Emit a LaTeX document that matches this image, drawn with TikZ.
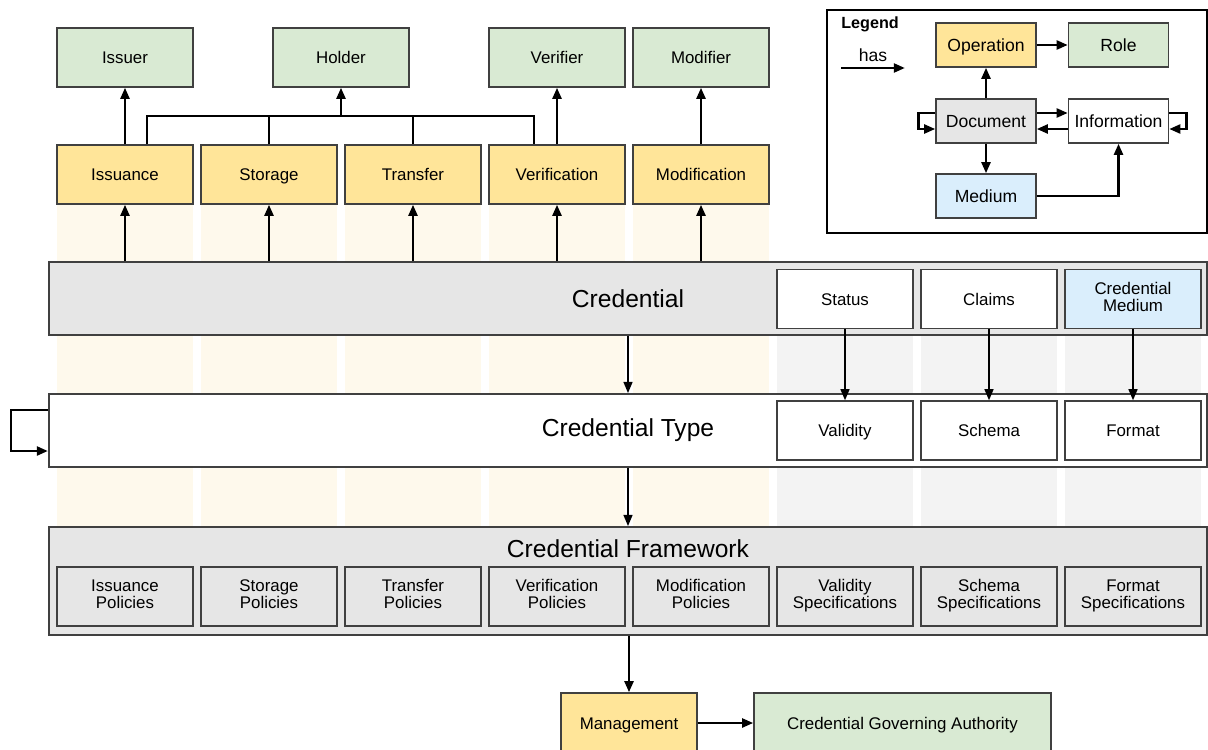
\documentclass[tikz,border=0pt]{standalone}
\usepackage{fontspec}
\setmainfont{Liberation Sans}
\usetikzlibrary{arrows.meta, positioning}

\definecolor{opyellow}{HTML}{FFE599}
\definecolor{rolegreen}{HTML}{D9EAD3}
\definecolor{mediumblue}{HTML}{DAEEFC}
\definecolor{bandgray}{HTML}{E6E6E6}
\definecolor{colyellow}{HTML}{FEF9EC}
\definecolor{colgray}{HTML}{F3F3F3}
\definecolor{boxline}{HTML}{404040}

% strut that keeps the capitals centred in a box
\newcommand{\capstrut}{\lineskiplimit=-100pt\relax\rule[-0.3em]{0pt}{1.316em}}

\begin{document}
\begin{tikzpicture}[
    x=0.025cm, y=-0.025cm,
    box/.style={rectangle, draw=boxline, line width=0.9pt, minimum width=3.4cm, minimum height=1.475cm, inner sep=1pt, align=center, font=\fontsize{12}{12.2}\selectfont, execute at begin node=\capstrut, execute at end node=\capstrut},
    op/.style={box, fill=opyellow},
    role/.style={box, fill=rolegreen},
    band/.style={rectangle, draw=boxline, line width=1.2pt, minimum width=28.95cm, minimum height=1.825cm, font=\fontsize{17.5}{20}\selectfont},
    lbox/.style={box, minimum width=2.5cm, minimum height=1.1cm, font=\fontsize{12.5}{14}\selectfont},
    arrow/.style={-{Triangle[length=0.28cm,width=0.22cm]}, line width=2pt},
    thinarrow/.style={arrow, line width=1.4pt},
    link/.style={line width=2pt}
]
    \useasboundingbox (0,0) rectangle (1208,749);

    % column backgrounds
    \foreach \cx in {125,269,413,557,701}
        \fill[colyellow] ({\cx-68},204) rectangle ({\cx+68},527);
    \foreach \cx in {845,989,1133}
        \fill[colgray] ({\cx-68},328) rectangle ({\cx+68},527);

    % roles
    \node[role] (issuer) at (125,57.5) {Issuer};
    \node[role] (holder) at (341,57.5) {Holder};
    \node[role] (verifier) at (557,57.5) {Verifier};
    \node[role] (modifier) at (701,57.5) {Modifier};

    % operations
    \node[op] (issuance) at (125,174.5) {Issuance};
    \node[op] (storage) at (269,174.5) {Storage};
    \node[op] (transfer) at (413,174.5) {Transfer};
    \node[op] (verification) at (557,174.5) {Verification};
    \node[op] (modification) at (701,174.5) {Modification};

    % credential
    \node[band, fill=bandgray] (credential) at (628,298.5) {\raisebox{-2pt}{Credential}};
    \node[box, fill=white] (status) at (845,299) {Status};
    \node[box, fill=white] (claims) at (989,299) {Claims};
    \node[box, fill=mediumblue] (credmedium) at (1133,299) {Credential\\Medium};

    % credential type
    \node[band, fill=white] (credtype) at (628,430.5) {\raisebox{-3pt}{Credential Type}};
    \node[box, fill=white] (validity) at (845,430.5) {Validity};
    \node[box, fill=white] (schema) at (989,430.5) {Schema};
    \node[box, fill=white] (format) at (1133,430.5) {Format};

    % credential framework
    \node[band, fill=bandgray, minimum height=2.7cm] (framework) at (628,581) {};
    \node[font=\fontsize{17.5}{20}\selectfont] (fwtitle) at (628,549) {Credential Framework};
    \node[box, fill=bandgray] (issuancepol) at (125,596.5) {Issuance\\Policies};
    \node[box, fill=bandgray] (storagepol) at (269,596.5) {Storage\\Policies};
    \node[box, fill=bandgray] (transferpol) at (413,596.5) {Transfer\\Policies};
    \node[box, fill=bandgray] (verificationpol) at (557,596.5) {Verification\\Policies};
    \node[box, fill=bandgray] (modificationpol) at (701,596.5) {Modification\\Policies};
    \node[box, fill=bandgray] (validityspec) at (845,596.5) {Validity\\Specifications};
    \node[box, fill=bandgray] (schemaspec) at (989,596.5) {Schema\\Specifications};
    \node[box, fill=bandgray] (formatspec) at (1133,596.5) {Format\\Specifications};

    % management
    \node[op, minimum height=1.5cm] (management) at (629,723) {Management};
    \node[role, minimum width=7.425cm, minimum height=1.5cm] (authority) at (902.5,723) {Credential Governing Authority};

    % legend
    \node[draw=black, line width=1.2pt, minimum width=9.5cm, minimum height=5.575cm] (legend) at (1017,121.5) {};
    \node[anchor=west, inner sep=0pt, font=\bfseries\fontsize{11.5}{14}\selectfont] (legendtitle) at (841,24) {Legend};
    \node[inner sep=0pt, font=\fontsize{12.5}{14}\selectfont] (haslabel) at (873,55) {has};
    \coordinate (hasfrom) at (841,68);
    \coordinate (hasto) at (905,68);
    \node[lbox, fill=opyellow] (loperation) at (986,45) {Operation};
    \node[lbox, fill=rolegreen] (lrole) at (1118.5,45) {Role};
    \node[lbox, fill=bandgray] (ldocument) at (986,121) {Document};
    \node[lbox, fill=white] (linformation) at (1118.5,121) {Information};
    \node[lbox, fill=mediumblue] (lmedium) at (986,196) {Medium};

    % operations to roles
    \draw[arrow] (issuance.north) -- (issuer.south);
    \coordinate (holderhub) at (341,116);
    \draw[link] ([xshift=0.55cm]issuance.north) |- (holderhub) -| ([xshift=-0.575cm]verification.north);
    \draw[link] (storage.north) -- (storage.north |- holderhub);
    \draw[link] (transfer.north) -- (transfer.north |- holderhub);
    \draw[arrow] (holderhub) -- (holder.south);
    \draw[arrow] (verification.north) -- (verifier.south);
    \draw[arrow] (modification.north) -- (modifier.south);

    % credential to operations
    \foreach \n in {issuance,storage,transfer,verification,modification}
        \draw[arrow] (\n.south |- credential.north) -- (\n.south);

    % down the stack
    \draw[thinarrow] (credential.south) -- (credtype.north);
    \draw[thinarrow] (status.south) -- (validity.north);
    \draw[thinarrow] (claims.south) -- (schema.north);
    \draw[thinarrow] (credmedium.south) -- (format.north);
    \draw[arrow] ([yshift=0.5125cm]credtype.west) -- ++(-37,0) |- ([yshift=-0.5125cm]credtype.west);
    \draw[thinarrow] (credtype.south) -- (framework.north);
    \draw[arrow] (management.north |- framework.south) -- (management.north);
    \draw[arrow] (management.east) -- (authority.west);

    % legend arrows
    \draw[arrow] (hasfrom) -- (hasto);
    \draw[arrow] (loperation.east) -- (lrole.west);
    \draw[arrow] (ldocument.north) -- (loperation.south);
    \draw[arrow] ([yshift=0.2cm]ldocument.east) -- ([yshift=0.2cm]linformation.west);
    \draw[arrow] ([yshift=-0.2cm]linformation.west) -- ([yshift=-0.2cm]ldocument.east);
    \draw[arrow] ([yshift=0.2cm]ldocument.west) -- ++(-17,0) |- ([yshift=-0.2cm]ldocument.west);
    \draw[arrow] ([yshift=0.2cm]linformation.east) -- ++(17,0) |- ([yshift=-0.2cm]linformation.east);
    \draw[arrow] (ldocument.south) -- (lmedium.north);
    \draw[arrow] (lmedium.east) -| (linformation.south);
\end{tikzpicture}
\end{document}
